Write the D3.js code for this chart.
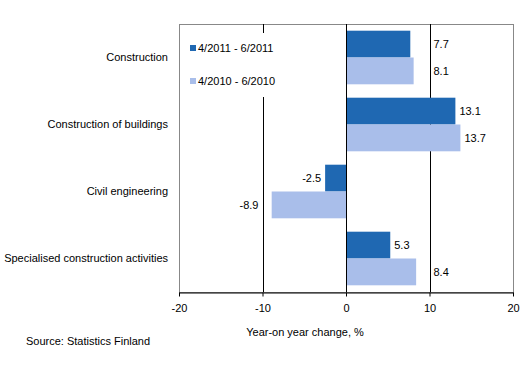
<!DOCTYPE html>
<html>
<head>
<meta charset="utf-8">
<script src="https://cdn.jsdelivr.net/npm/d3@7"></script>
<style>
  body { margin: 0; background: #fff; }
  text { font-family: "Liberation Sans", Arial, sans-serif; font-size: 11px; fill: #000; }
</style>
</head>
<body>
<div id="container"></div>
<script>
/* DATA */
const categories = ["Construction", "Construction of buildings", "Civil engineering", "Specialised construction activities"];
const seriesNames = ["4/2011 - 6/2011", "4/2010 - 6/2010"];
const values2011 = [7.7, 13.1, -2.5, 5.3];
const values2010 = [8.1, 13.7, -8.9, 8.4];
const xTicks = [-20, -10, 0, 10, 20];
const gridValues = [-10, 10];

/* CONSTANTS */
const width = 528, height = 380;
const margin = {top: 24, bottom: 88, left: 179, right: 15};
const colors = ["#1f68b2", "#a9beea"];

const rows = categories.map((c, i) => ({category: c, values: [values2011[i], values2010[i]]}));

const svg = d3.select("#container")
  .append("svg")
  .attr("width", width)
  .attr("height", height);

/* SCALES */
const xScale = d3.scaleLinear()
  .domain([-20, 20])
  .range([margin.left, width - margin.right]);

const yScale = d3.scaleBand()
  .domain(categories)
  .range([margin.top, height - margin.bottom])
  .paddingInner(0.2)
  .paddingOuter(0.1);

const ySub = d3.scaleBand()
  .domain([0, 1])
  .range([0, yScale.bandwidth()]);

const plotTop = margin.top, plotBottom = height - margin.bottom;

// plot frame (gray)
svg.append("rect")
  .attr("x", xScale(-20) + 0.5)
  .attr("y", plotTop + 0.5)
  .attr("width", xScale(20) - xScale(-20))
  .attr("height", plotBottom - plotTop)
  .attr("fill", "none")
  .attr("stroke", "#888");

// gridlines
svg.selectAll("line.grid")
  .data(gridValues)
  .join("line")
  .attr("class", "grid")
  .attr("x1", d => Math.round(xScale(d)) + 0.5)
  .attr("x2", d => Math.round(xScale(d)) + 0.5)
  .attr("y1", plotTop)
  .attr("y2", plotBottom)
  .attr("stroke", "#000");

// bars
const groups = svg.selectAll("g.cat")
  .data(rows)
  .join("g")
  .attr("class", "cat")
  .attr("transform", d => `translate(0,${yScale(d.category)})`);

groups.selectAll("rect")
  .data(d => d.values.map((v, i) => ({v, i})))
  .join("rect")
  .attr("x", d => xScale(Math.min(0, d.v)))
  .attr("y", d => ySub(d.i))
  .attr("width", d => Math.abs(xScale(d.v) - xScale(0)))
  .attr("height", ySub.bandwidth())
  .attr("fill", d => colors[d.i]);

// zero line
svg.append("line")
  .attr("x1", Math.round(xScale(0)) + 0.5)
  .attr("x2", Math.round(xScale(0)) + 0.5)
  .attr("y1", plotTop)
  .attr("y2", plotBottom)
  .attr("stroke", "#000");

// value labels, nudged off the gridlines
groups.selectAll("text.val")
  .data(d => d.values.map((v, i) => ({v, i})))
  .join("text")
  .attr("class", "val")
  .attr("y", d => ySub(d.i) + ySub.bandwidth() / 2)
  .attr("dy", "0.35em")
  .text(d => d.v.toFixed(1))
  .each(function(d) {
    const t = d3.select(this);
    const w = this.getComputedTextLength();
    const end = xScale(d.v);
    if (d.v >= 0) {
      let x = end + 4;
      gridValues.forEach(g => {
        const gx = xScale(g);
        if (gx > x - 2 && gx < x + w + 2) x = gx + 4;
      });
      t.attr("x", x).attr("text-anchor", "start");
    } else {
      let x = end - 4;
      gridValues.forEach(g => {
        const gx = xScale(g);
        if (gx > x - w - 2 && gx < x + 2) x = gx - 4;
      });
      t.attr("x", x).attr("text-anchor", "end");
    }
  });

// category labels
svg.selectAll("text.cat")
  .data(categories)
  .join("text")
  .attr("class", "cat")
  .attr("x", 168)
  .attr("y", d => yScale(d) + yScale.bandwidth() / 2)
  .attr("dy", "0.35em")
  .attr("text-anchor", "end")
  .text(d => d);

// x axis
const xAxis = d3.axisBottom(xScale)
  .tickValues(xTicks)
  .tickFormat(d => String(d))
  .tickSize(4)
  .tickSizeOuter(0)
  .tickPadding(8);

const axisG = svg.append("g")
  .attr("transform", `translate(0,${plotBottom + 0.5})`)
  .call(xAxis);
axisG.select(".domain").attr("stroke", "#000");
axisG.selectAll(".tick line").attr("stroke", "#000");
axisG.selectAll(".tick text")
  .attr("font-family", null)
  .attr("font-size", null);

svg.append("text")
  .attr("x", 305)
  .attr("y", 332)
  .attr("dy", "0.35em")
  .attr("text-anchor", "middle")
  .text("Year-on year change, %");

svg.append("text")
  .attr("x", 26)
  .attr("y", 341)
  .attr("dy", "0.35em")
  .text("Source: Statistics Finland");

// legend
const legend = svg.append("g");
legend.append("rect")
  .attr("x", 186)
  .attr("y", 33)
  .attr("width", 92)
  .attr("height", 64)
  .attr("fill", "#fff");

const items = legend.selectAll("g.item")
  .data(seriesNames)
  .join("g")
  .attr("class", "item")
  .attr("transform", (d, i) => `translate(190,${48 + i * 33})`);

items.append("rect")
  .attr("x", 0)
  .attr("y", -3)
  .attr("width", 6)
  .attr("height", 6)
  .attr("fill", (d, i) => colors[i]);

items.append("text")
  .attr("x", 8)
  .attr("dy", "0.35em")
  .text(d => d);
</script>
</body>
</html>
